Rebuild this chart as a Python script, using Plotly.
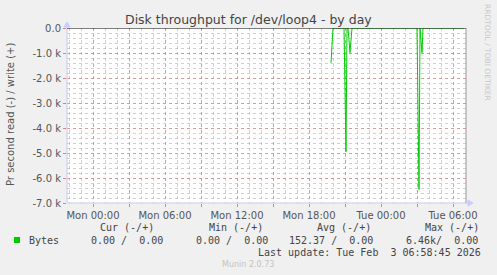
import plotly.graph_objects as go

# ---- data ----
times = ["2026-02-02 19:50", "2026-02-02 20:00", "2026-02-02 20:55", "2026-02-02 21:05",
         "2026-02-02 21:10", "2026-02-02 21:15", "2026-02-02 21:25", "2026-02-02 21:35",
         "2026-02-03 03:00", "2026-02-03 03:10", "2026-02-03 03:15", "2026-02-03 03:25",
         "2026-02-03 03:30", "2026-02-03 06:55"]
read_bytes = [1390, 0, 0, 4950, 0, 0, 990, 0, 0, 6460, 0, 990, 0, 0]

y_tickvals = [0, -1000, -2000, -3000, -4000, -5000, -6000, -7000]
y_ticktext = ["0.0", "-1.0 k", "-2.0 k", "-3.0 k", "-4.0 k", "-5.0 k", "-6.0 k", "-7.0 k"]

x_major = ["2026-02-01 21:00", "2026-02-02 00:00", "2026-02-02 03:00", "2026-02-02 06:00",
           "2026-02-02 09:00", "2026-02-02 12:00", "2026-02-02 15:00", "2026-02-02 18:00",
           "2026-02-02 21:00", "2026-02-03 00:00", "2026-02-03 03:00", "2026-02-03 06:00"]
x_labels = ["", "Mon 00:00", "", "Mon 06:00", "", "Mon 12:00", "", "Mon 18:00",
            "", "Tue 00:00", "", "Tue 06:00"]
x_range = ["2026-02-01 21:50", "2026-02-03 07:05"]

title = "Disk throughput for /dev/loop4 - by day"
y_title = "Pr second read (-) / write (+)"
legend_headers = ["Cur (-/+)", "Min (-/+)", "Avg (-/+)", "Max (-/+)"]
legend_values = ["0.00 /  0.00", "0.00 /  0.00", "152.37 /  0.00", "6.46k/  0.00"]
series_name = "Bytes"
last_update = "Last update: Tue Feb  3 06:58:45 2026"
footer = "Munin 2.0.73"
side_text = "RRDTOOL / TOBI OETIKER"

# ---- layout geometry ----
W, H = 497, 275
L, R, T, B = 67, 466, 28, 203
PW, PH = R - L, B - T

def px(x):
    return (x - L) / PW

def py(y):
    return (B - y) / PH

GREEN = "#00cc00"
TXT = "#333333"
SANS = "DejaVu Sans"
MONO = "DejaVu Sans Mono"

fig = go.Figure()
fig.add_trace(go.Scatter(
    x=times, y=[-v for v in read_bytes], mode="lines",
    line=dict(color=GREEN, width=1), showlegend=False, hoverinfo="skip"))

fig.update_layout(
    width=W, height=H,
    margin=dict(l=L, r=W - R, t=T, b=H - B, pad=0),
    paper_bgcolor="#f0f0f0", plot_bgcolor="#ffffff",
    showlegend=False,
    font=dict(family=SANS, size=10, color="#555555"),
)

MAJ = "rgba(225,90,90,0.45)"
MIN = "rgba(150,150,150,0.45)"
fig.update_xaxes(
    type="date", range=x_range,
    tickmode="array", tickvals=x_major, ticktext=x_labels,
    showgrid=True, gridcolor=MAJ, griddash="dot", gridwidth=1,
    minor=dict(dtick=3600000, tick0="2026-02-02 00:00", showgrid=True,
               gridcolor=MIN, griddash="dot", gridwidth=1),
    ticks="outside", ticklen=3, tickcolor="rgba(220,80,80,0.7)",
    tickfont=dict(family=SANS, size=10, color="#555555"),
    showline=False, zeroline=False, fixedrange=True,
)
fig.update_yaxes(
    range=[-7000, 0], tickmode="array", tickvals=y_tickvals, ticktext=y_ticktext,
    showgrid=True, gridcolor=MAJ, griddash="dot", gridwidth=1,
    minor=dict(dtick=200, showgrid=True,
               gridcolor=MIN, griddash="dot", gridwidth=1),
    ticks="outside", ticklen=3, tickcolor="rgba(220,80,80,0.7)",
    tickfont=dict(family=SANS, size=10, color="#555555"),
    showline=False, zeroline=False, fixedrange=True,
)

AXC = "#c4c8ee"
shapes = [
    dict(type="line", xref="paper", yref="paper", x0=0, x1=1, y0=0, y1=0,
         line=dict(color=AXC, width=1), layer="above"),
    dict(type="line", xref="paper", yref="paper", x0=0, x1=0, y0=0, y1=1,
         line=dict(color=AXC, width=1), layer="above"),
    dict(type="line", xref="paper", yref="paper", x0=1, x1=1, y0=0, y1=1,
         line=dict(color="#999999", width=1), layer="above"),
    dict(type="line", xref="paper", yref="y", x0=0, x1=1, y0=0, y1=0,
         line=dict(color="#000000", width=1.2), layer="above"),
    dict(type="path", xref="paper", yref="paper", xsizemode="pixel", ysizemode="pixel",
         xanchor=1, yanchor=0, path="M 0,0 L 3,0 M 2,-3 L 7,0 L 2,3 Z",
         fillcolor="#c8ccff", line=dict(color="#c8ccff", width=1), layer="above"),
    dict(type="path", xref="paper", yref="paper", xsizemode="pixel", ysizemode="pixel",
         xanchor=0, yanchor=1, path="M 0,0 L 0,2 M -3,1 L 0,6 L 3,1 Z",
         fillcolor="#c8ccff", line=dict(color="#c8ccff", width=1), layer="above"),
]
fig.update_layout(shapes=shapes)

ann = []
def text(x, y, s, size=10, family=SANS, color=TXT, xanchor="left", angle=0):
    ann.append(dict(x=px(x), y=py(y), xref="paper", yref="paper", text=s,
                    showarrow=False, xanchor=xanchor, yanchor="middle",
                    textangle=angle, font=dict(family=family, size=size, color=color)))

text(248, 19, title, size=12.5, color="#444444", xanchor="center")
text(10, 115, y_title, size=10, color="#555555", xanchor="center", angle=-90)
text(488, 52, side_text, size=7.5, color="#c8c8c8", xanchor="center", angle=90)

hx = [98, 207, 315, 423]
for x, s in zip(hx, legend_headers):
    text(x, 227, s, family=MONO, color="#444444")
vx = [89, 194, 287, 404]
for x, s in zip(vx, legend_values):
    text(x, 240, s, family=MONO, color="#444444")
text(27, 240, series_name, family=MONO, color="#444444")
text(483, 252, last_update, family=MONO, color="#444444", xanchor="right")
text(248, 264, footer, size=8, color="#c4c4c4", xanchor="center")

fig.update_layout(annotations=ann)
fig.add_shape(type="rect", xref="paper", yref="paper",
              x0=px(14), x1=px(20), y0=py(243), y1=py(237),
              fillcolor=GREEN, line=dict(width=0), layer="above")

fig.write_html("out.html")
